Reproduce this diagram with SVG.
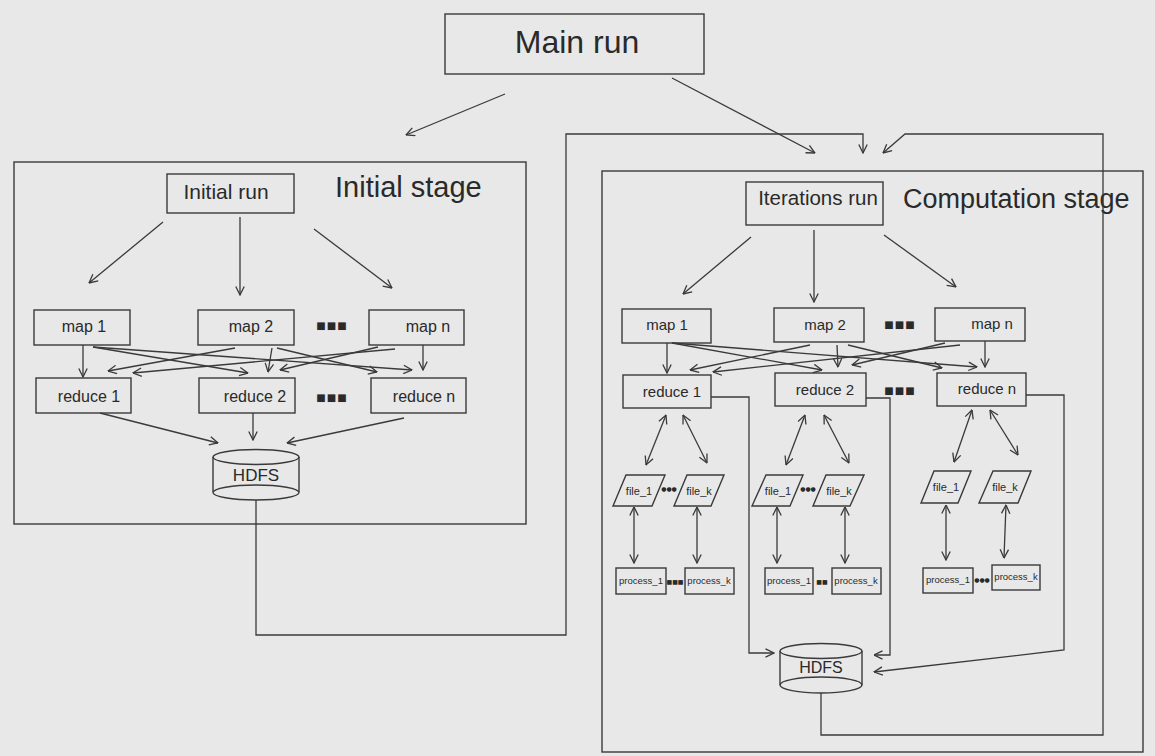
<svg xmlns="http://www.w3.org/2000/svg" width="1155" height="756" viewBox="0 0 1155 756">
<defs>
<marker id="ah" viewBox="0 0 10 10" refX="9.5" refY="5" markerWidth="10" markerHeight="10" markerUnits="userSpaceOnUse" orient="auto-start-reverse">
<path d="M1,0.8 L9.5,5 L1,9.2" fill="none" stroke="#3a3a3a" stroke-width="1.3"/>
</marker>
<style>
.b{fill:none;stroke:#3a3a3a;stroke-width:1.4}
.c{fill:none;stroke:#3a3a3a;stroke-width:1.3}
.a{fill:none;stroke:#3a3a3a;stroke-width:1.3;marker-end:url(#ah)}
.d{fill:none;stroke:#3a3a3a;stroke-width:1.3;marker-start:url(#ah);marker-end:url(#ah)}
text{font-family:"Liberation Sans",Arial,sans-serif;fill:#2a2a2a}
.t16{font-size:16px;text-anchor:middle}
.t15{font-size:15px;text-anchor:middle}
.tf{font-size:11px;text-anchor:middle}
.tp{font-size:9.5px;text-anchor:middle}
.dots{font-family:"DejaVu Sans",sans-serif;font-size:10px;letter-spacing:1px;text-anchor:middle}
.sdots{font-family:"DejaVu Sans",sans-serif;font-size:6px;text-anchor:middle}
</style>
</defs>
<rect width="1155" height="756" fill="#e8e8e8"/>

<!-- containers -->
<g id="initial-stage">
<rect class="b" x="14" y="162" width="512" height="362"/>
<text x="335" y="197" font-size="29">Initial stage</text>
</g>
<g id="computation-stage">
<rect class="b" x="602" y="171" width="541" height="581"/>
<text x="903" y="208" font-size="27">Computation stage</text>
</g>

<!-- nodes -->
<g id="main-run"><rect class="b" x="445" y="14" width="259" height="60"/><text x="577" y="53" font-size="32" text-anchor="middle">Main run</text></g>

<g id="initial-run"><rect class="b" x="167" y="174" width="127" height="39"/><text x="226" y="199" font-size="21" text-anchor="middle">Initial run</text></g>
<g id="l-map1"><rect class="b" x="34" y="310" width="96" height="35"/><text class="t16" x="84" y="332">map 1</text></g>
<g id="l-map2"><rect class="b" x="198" y="310" width="96" height="35"/><text class="t16" x="251" y="332">map 2</text></g>
<g id="l-mapdots"><text class="dots" x="332" y="329">■■■</text></g>
<g id="l-mapn"><rect class="b" x="369" y="310" width="95" height="35"/><text class="t16" x="428" y="332">map n</text></g>
<g id="l-reduce1"><rect class="b" x="36" y="378" width="95" height="35"/><text class="t16" x="89" y="402">reduce 1</text></g>
<g id="l-reduce2"><rect class="b" x="199" y="378" width="96" height="35"/><text class="t16" x="255" y="402">reduce 2</text></g>
<g id="l-reducedots"><text class="dots" x="332" y="401">■■■</text></g>
<g id="l-reducen"><rect class="b" x="371" y="378" width="95" height="35"/><text class="t16" x="424" y="402">reduce n</text></g>
<g id="l-hdfs">
<path class="b" d="M213,457 L213,492 M299,457 L299,492"/>
<ellipse class="b" cx="256" cy="457" rx="43" ry="7.5"/>
<ellipse class="b" cx="256" cy="492.5" rx="43" ry="7.5"/>
<text x="256" y="481" font-size="17" text-anchor="middle">HDFS</text>
</g>

<g id="iterations-run"><rect class="b" x="746" y="182" width="137" height="43"/><text x="818" y="205" font-size="20.5" text-anchor="middle">Iterations run</text></g>
<g id="r-map1"><rect class="b" x="622" y="309" width="89" height="34"/><text class="t15" x="667" y="330">map 1</text></g>
<g id="r-map2"><rect class="b" x="774" y="308" width="90" height="34"/><text class="t15" x="825" y="330">map 2</text></g>
<g id="r-mapdots"><text class="dots" x="900" y="328">■■■</text></g>
<g id="r-mapn"><rect class="b" x="935" y="308" width="90" height="33"/><text class="t15" x="992" y="329">map n</text></g>
<g id="r-reduce1"><rect class="b" x="623" y="375" width="88" height="33"/><text class="t15" x="672" y="397">reduce 1</text></g>
<g id="r-reduce2"><rect class="b" x="775" y="373" width="91" height="33"/><text class="t15" x="825" y="395">reduce 2</text></g>
<g id="r-reducedots"><text class="dots" x="900" y="394">■■■</text></g>
<g id="r-reducen"><rect class="b" x="937" y="373" width="89" height="33"/><text class="t15" x="987" y="394">reduce n</text></g>

<g id="g1-file1"><polygon class="b" points="626,475 665,475 652,506 613,506"/><text class="tf" x="639" y="495">file_1</text></g>
<g id="g1-filedots"><text class="sdots" x="669" y="491">●●●</text></g>
<g id="g1-filek"><polygon class="b" points="687,475 724,475 711,506 674,506"/><text class="tf" x="699" y="495">file_k</text></g>
<g id="g1-proc1"><rect class="b" x="616" y="568" width="50" height="26"/><text class="tp" x="641" y="584">process_1</text></g>
<g id="g1-procdots"><text class="sdots" x="675" y="584">■■■</text></g>
<g id="g1-prock"><rect class="b" x="685" y="568" width="49" height="26"/><text class="tp" x="709" y="584">process_k</text></g>

<g id="g2-file1"><polygon class="b" points="766,475 803,475 790,506 752,506"/><text class="tf" x="778" y="495">file_1</text></g>
<g id="g2-filedots"><text class="sdots" x="808" y="491">●●●</text></g>
<g id="g2-filek"><polygon class="b" points="826,475 864,475 850,506 813,506"/><text class="tf" x="839" y="495">file_k</text></g>
<g id="g2-proc1"><rect class="b" x="765" y="568" width="48" height="26"/><text class="tp" x="789" y="584">process_1</text></g>
<g id="g2-procdots"><text class="sdots" x="822" y="584">■■</text></g>
<g id="g2-prock"><rect class="b" x="832" y="568" width="49" height="26"/><text class="tp" x="856" y="584">process_k</text></g>

<g id="g3-file1"><polygon class="b" points="934,471 971,471 958,503 921,503"/><text class="tf" x="946" y="491">file_1</text></g>
<g id="g3-filek"><polygon class="b" points="993,471 1031,471 1018,503 979,503"/><text class="tf" x="1005" y="491">file_k</text></g>
<g id="g3-proc1"><rect class="b" x="923" y="568" width="50" height="25"/><text class="tp" x="948" y="583">process_1</text></g>
<g id="g3-procdots"><text class="sdots" x="982" y="582">●●●</text></g>
<g id="g3-prock"><rect class="b" x="992" y="565" width="48" height="25"/><text class="tp" x="1016" y="580">process_k</text></g>

<g id="r-hdfs">
<path class="b" d="M780,651 L780,685 M862,651 L862,685"/>
<ellipse class="b" cx="821" cy="651" rx="41" ry="7.5"/>
<ellipse class="b" cx="821" cy="685" rx="41" ry="8"/>
<text x="821" y="673" font-size="16" text-anchor="middle">HDFS</text>
</g>

<!-- connectors -->
<g id="connectors">
<path class="a" d="M505,94 L406,135"/>
<path class="a" d="M672,78 L815,153"/>
<path class="a" d="M256,500 L256,635 L566,635 L566,134 L863,134 L863,153"/>
<path class="a" d="M821,693 L821,735 L1103,735 L1103,134 L905,134 L883,153"/>

<path class="a" d="M163,222 L89,283"/>
<path class="a" d="M240,217 L240,295"/>
<path class="a" d="M314,229 L392,288"/>

<path class="a" d="M83,345 L83,377"/>
<path class="a" d="M93,347 L248,373"/>
<path class="a" d="M93,347 L412,370"/>
<path class="a" d="M235,348 L108,371"/>
<path class="a" d="M272,348 L268,372"/>
<path class="a" d="M277,348 L377,372"/>
<path class="a" d="M395,349 L133,373"/>
<path class="a" d="M378,347 L280,370"/>
<path class="a" d="M423,345 L423,370"/>

<path class="a" d="M100,413 L218,443"/>
<path class="a" d="M253,413 L253,440"/>
<path class="a" d="M404,418 L287,443"/>

<path class="a" d="M751,237 L683,294"/>
<path class="a" d="M814,230 L814,302"/>
<path class="a" d="M884,235 L956,287"/>

<path class="a" d="M667,343 L667,373"/>
<path class="a" d="M672,343 L822,370"/>
<path class="a" d="M672,343 L977,367"/>
<path class="a" d="M810,345 L690,370"/>
<path class="a" d="M837,345 L838,367"/>
<path class="a" d="M848,345 L942,368"/>
<path class="a" d="M960,345 L713,372"/>
<path class="a" d="M945,343 L852,365"/>
<path class="a" d="M985,341 L985,367"/>

<path class="a" d="M711,397 L749,397 L749,653 L774,653"/>
<path class="a" d="M866,398 L890,398 L890,655 L874,655"/>
<path class="a" d="M1026,395 L1064,395 L1064,650 L874,672"/>

<path class="d" d="M666,415 L646,465"/>
<path class="d" d="M683,415 L707,463"/>
<path class="d" d="M634,507 L634,563"/>
<path class="d" d="M697,507 L697,563"/>
<path class="d" d="M805,415 L786,465"/>
<path class="d" d="M824,415 L849,463"/>
<path class="d" d="M777,507 L777,563"/>
<path class="d" d="M845,507 L845,563"/>
<path class="d" d="M972,410 L954,462"/>
<path class="d" d="M990,410 L1018,455"/>
<path class="d" d="M946,505 L946,560"/>
<path class="d" d="M1006,505 L1004,558"/>
</g>
</svg>
